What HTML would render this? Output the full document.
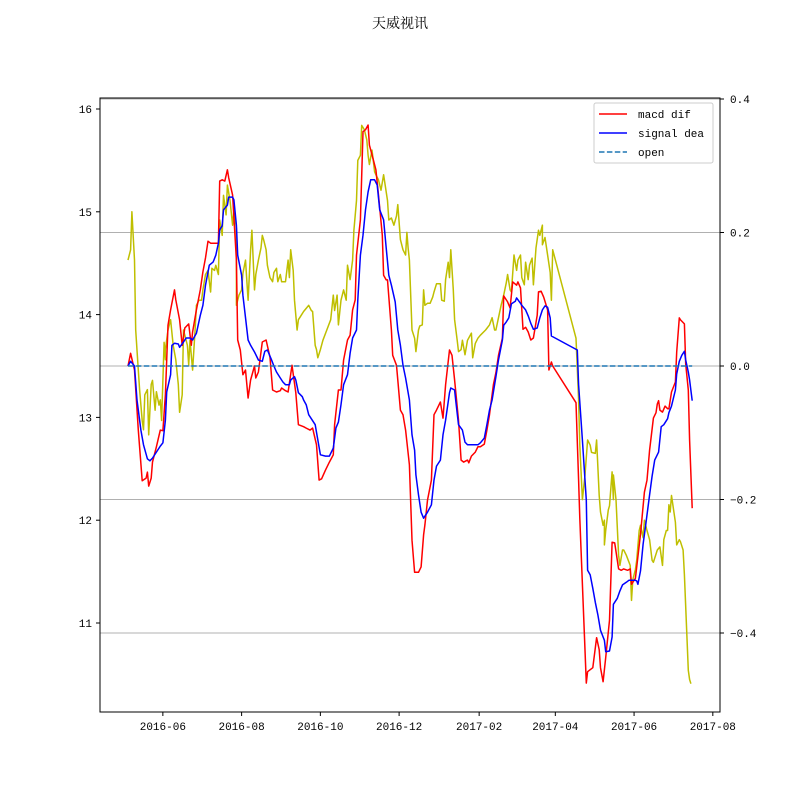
<!DOCTYPE html>
<html><head><meta charset="utf-8"><style>
body{margin:0;background:#fff}
svg text{font-family:"Liberation Mono","Noto Serif CJK SC",monospace;font-size:11px;fill:#000}
</style></head><body>
<svg id="chart" width="800" height="800" xmlns="http://www.w3.org/2000/svg">
<rect width="800" height="800" fill="#fff"/>
<text x="400" y="28" text-anchor="middle" style="font-family:'Noto Serif CJK SC','Noto Sans CJK SC',serif;font-size:14px">天威视讯</text>
<g id="grid"></g><g id="series"></g><g id="axes"></g>
<g id="legend">
<rect x="594" y="103" width="119" height="60" fill="#fff" fill-opacity="0.8" stroke="#ccc" rx="2"/>
<g><line x1="599" y1="114" x2="627" y2="114" stroke="#f00" stroke-width="1.5"/><text x="638" y="118">macd dif</text></g>
<g><line x1="599" y1="133" x2="627" y2="133" stroke="#00f" stroke-width="1.5"/><text x="638" y="137">signal dea</text></g>
<g><line x1="599" y1="152" x2="627" y2="152" stroke="#1f77b4" stroke-width="1.5" stroke-dasharray="5.5,2.4"/><text x="638" y="156">open</text></g>
</g>
</svg>
<script>
// days since 2016-05-05
const monthTickDays=[27,88,149,210,272,331,392,453];
const monthTickLabels=["2016-06","2016-08","2016-10","2016-12","2017-02","2017-04","2017-06","2017-08"];
const leftTicks=[11,12,13,14,15,16];
const rightTicks=[-0.4,-0.2,0.0,0.2,0.4];
const rightTickLabels=["\u22120.4","\u22120.2","0.0","0.2","0.4"];
const difDays=[0,2,5,8,11,14,15,16,18,19,22,25,27,29,31,33,36,37,40,42,44,47,49,50,53,56,58,60,62,64,66,68,70,71,73,75,77,78,81,84,85,87,89,91,93,95,98,99,101,104,107,110,112,115,118,119,122,124,127,130,132,136,138,141,143,146,148,150,153,156,159,160,163,165,167,170,172,174,176,177,180,182,184,186,187,190,192,194,197,198,200,201,204,205,208,209,211,213,215,218,220,222,225,227,229,230,232,235,237,239,242,244,246,249,251,253,256,258,260,263,264,266,269,271,273,276,278,280,283,285,287,290,291,294,296,298,301,302,304,306,308,310,312,314,317,318,320,322,325,326,328,329,347,349,350,355,356,360,363,365,366,368,370,373,375,377,380,382,384,387,389,390,393,397,400,402,404,407,409,410,411,412,414,416,418,419,421,424,425,427,428,431,432,434,435,437];
const difValues=[0,.019,-.006,-.096,-.172,-.168,-.159,-.180,-.168,-.144,-.121,-.096,-.097,-.043,.061,.084,.114,.099,.069,.031,.057,.063,.031,.051,.084,.114,.141,.162,.187,.184,.184,.184,.184,.277,.279,.277,.294,.282,.256,.159,.039,.024,-.013,-.006,-.048,-.021,0,-.018,-.009,.036,.039,.013,-.036,-.039,-.037,-.033,-.037,-.039,.001,-.040,-.088,-.091,-.093,-.096,-.093,-.118,-.171,-.169,-.156,-.144,-.133,-.088,-.036,-.036,.009,.039,.046,.084,.099,.166,.219,.351,.354,.361,.331,.309,.294,.256,.196,.136,.129,.129,.054,.016,.001,-.021,-.066,-.073,-.096,-.148,-.261,-.309,-.309,-.301,-.253,-.238,-.201,-.171,-.073,-.066,-.054,-.078,-.028,.024,.016,-.021,-.081,-.141,-.144,-.141,-.145,-.135,-.129,-.121,-.121,-.117,-.096,-.073,-.028,-.010,.016,.042,.105,.096,.087,.126,.121,.126,.117,.055,.058,.051,.039,.042,.076,.111,.112,.103,.084,-.006,.006,0,-.055,-.171,-.228,-.475,-.458,-.452,-.407,-.425,-.452,-.473,-.437,-.381,-.264,-.265,-.304,-.306,-.304,-.306,-.304,-.327,-.318,-.252,-.189,-.171,-.126,-.078,-.070,-.057,-.052,-.066,-.069,-.060,-.064,-.064,-.039,-.024,.021,.072,.069,.063,.003,-.036,-.111,-.213];
const deaDays=[0,2,5,7,10,12,15,17,19,22,25,27,29,30,33,34,36,39,40,43,45,48,50,53,56,58,60,63,66,68,70,71,73,74,77,78,81,82,84,85,88,89,93,95,98,101,104,106,108,111,113,115,118,120,122,125,126,129,130,132,135,136,138,140,143,145,149,153,156,159,161,163,165,167,170,172,174,177,178,180,182,184,186,188,191,193,195,198,200,202,204,207,209,211,213,215,218,220,222,223,225,227,229,232,235,237,239,242,244,246,249,250,253,254,256,259,261,263,267,271,273,276,278,280,282,285,287,290,291,293,295,297,300,301,304,305,308,310,312,314,317,319,321,323,325,327,328,348,349,352,355,356,358,360,362,364,366,369,370,373,375,376,379,381,383,386,388,390,393,394,395,397,399,401,404,406,408,411,413,415,418,419,421,424,425,427,429,431,432,434,435,437];
const deaValues=[0,.007,0,-.051,-.096,-.118,-.139,-.142,-.138,-.129,-.120,-.115,-.081,-.039,-.013,.031,.034,.033,.028,.036,.042,.042,.039,.049,.076,.091,.121,.151,.156,.166,.184,.204,.210,.234,.241,.253,.253,.249,.211,.166,.136,.106,.039,.031,.021,.009,.007,.022,.024,.010,0,-.009,-.018,-.024,-.028,-.028,-.021,-.016,-.021,-.040,-.046,-.051,-.058,-.073,-.082,-.088,-.133,-.135,-.135,-.123,-.093,-.084,-.058,-.028,-.013,.019,.042,.054,.099,.166,.196,.234,.261,.279,.279,.271,.234,.219,.177,.136,.121,.096,.054,.031,.001,-.018,-.051,-.103,-.126,-.163,-.193,-.219,-.228,-.219,-.208,-.171,-.150,-.141,-.103,-.081,-.040,-.033,-.036,-.054,-.088,-.096,-.114,-.118,-.118,-.118,-.115,-.108,-.088,-.066,-.051,-.016,.009,.039,.061,.066,.072,.093,.097,.102,.094,.091,.084,.075,.064,.055,.057,.072,.084,.090,.088,.072,.045,.024,-.028,-.111,-.201,-.306,-.313,-.333,-.354,-.373,-.396,-.411,-.428,-.427,-.406,-.357,-.348,-.337,-.328,-.324,-.321,-.321,-.321,-.322,-.327,-.307,-.267,-.238,-.193,-.165,-.141,-.129,-.091,-.088,-.079,-.070,-.060,-.036,-.012,.007,.016,.022,.009,-.009,-.021,-.052];
const openDays=[0,2,3,5,6,8,9,11,12,13,15,16,18,19,21,22,24,25,26,28,29,29,31,33,35,37,39,40,42,43,46,47,48,50,52,53,55,57,58,60,62,64,65,67,68,70,71,73,74,76,77,79,81,82,84,84,86,88,89,91,93,95,96,98,99,101,103,104,105,107,108,110,112,113,115,116,118,119,121,122,124,125,126,128,129,131,132,133,136,138,140,142,143,145,146,147,149,151,154,157,159,160,162,163,165,167,169,170,172,174,175,177,178,180,181,183,185,186,187,189,191,192,194,196,198,201,202,204,206,208,209,211,213,215,216,217,218,220,222,223,225,226,228,229,230,232,234,236,237,239,242,243,245,246,248,249,250,252,253,255,256,258,259,261,263,266,267,269,271,273,277,280,282,284,285,287,289,291,293,294,296,297,299,301,302,304,305,307,308,310,311,313,314,316,318,319,321,321,323,325,327,328,329,347,349,350,352,354,356,358,359,362,363,365,366,368,369,369,370,372,373,375,376,376,378,380,381,383,384,386,389,390,391,393,394,396,397,399,400,402,404,406,407,410,412,414,415,417,418,419,420,421,424,425,427,428,430,431,434,435,436];
const openValues=[14.53,14.63,15.00,14.53,13.85,13.46,13.27,12.97,12.88,13.22,13.27,12.83,13.32,13.36,13.07,13.25,13.12,13.17,12.97,13.73,13.56,13.66,13.85,13.95,13.70,13.56,13.32,13.05,13.22,13.85,13.70,13.51,13.75,13.46,13.85,14.09,14.14,14.14,14.24,14.39,14.43,14.22,14.45,14.43,14.48,14.39,14.92,14.77,15.16,14.97,15.26,15.11,14.87,15.02,14.84,14.09,14.19,14.24,14.40,14.53,14.14,14.63,14.82,14.24,14.39,14.53,14.65,14.77,14.73,14.63,14.48,14.36,14.32,14.41,14.45,14.32,14.39,14.32,14.32,14.32,14.53,14.36,14.63,14.43,14.14,13.85,13.95,13.97,14.03,14.06,14.09,14.04,14.03,13.70,13.66,13.58,13.66,13.75,13.85,13.95,14.19,14.04,14.19,13.90,14.14,14.24,14.14,14.48,14.34,14.53,14.82,15.11,15.50,15.55,15.84,15.80,15.70,15.55,15.46,15.60,15.39,15.36,15.31,15.21,15.36,15.11,14.92,14.94,14.87,14.96,15.07,14.73,14.63,14.58,14.80,14.65,14.53,13.85,13.77,13.64,13.85,13.89,13.90,14.24,14.09,14.11,14.11,14.17,14.22,14.30,14.30,14.14,14.13,14.34,14.51,14.36,14.63,14.24,13.95,13.75,13.64,13.66,13.75,13.61,13.75,13.82,13.58,13.72,13.77,13.80,13.85,13.90,13.97,13.85,13.85,13.97,14.09,14.19,14.31,14.39,14.24,14.22,14.58,14.43,14.53,14.58,14.36,14.29,14.51,14.34,14.48,14.55,14.29,14.65,14.82,14.77,14.87,14.68,14.75,14.58,14.41,14.14,14.63,13.77,13.17,12.73,12.20,12.44,12.78,12.73,12.66,12.65,12.78,12.24,12.08,11.95,12.00,11.76,11.90,12.10,12.14,12.47,12.20,12.44,12.20,11.66,11.56,11.71,11.71,11.66,11.56,11.22,11.42,11.52,11.61,11.90,11.95,11.83,12.00,11.90,11.81,11.61,11.59,11.71,11.74,11.56,11.81,11.90,11.90,12.15,12.08,12.24,11.98,11.76,11.81,11.79,11.71,11.47,10.54,10.45,10.41];

const NS="http://www.w3.org/2000/svg";
const L=100,R=720,T=98,B=712;
const xS=d=>128+d*1.291;
const yL=v=>109+(16-v)*102.8;
const yR=v=>366-v*667.5;
function mk(tag,attrs,parent){const e=document.createElementNS(NS,tag);for(const k in attrs)e.setAttribute(k,attrs[k]);parent.appendChild(e);return e;}
const grid=document.getElementById('grid'),ser=document.getElementById('series'),axes=document.getElementById('axes');
rightTicks.forEach((v,i)=>{
  const g=mk('line',{x1:L,x2:R,y1:yR(v),y2:yR(v),stroke:'#b0b0b0','stroke-width':1},grid);
  
  
  mk('line',{x1:R,x2:R+4,y1:yR(v),y2:yR(v),stroke:'#000'},axes);
  const t=mk('text',{x:R+10,y:yR(v)+4},axes);t.textContent=rightTickLabels[i];
  
  
});
leftTicks.forEach(v=>{
  mk('line',{x1:L-4,x2:L,y1:yL(v),y2:yL(v),stroke:'#000'},axes);
  const t=mk('text',{x:L-8,y:yL(v)+4,'text-anchor':'end'},axes);t.textContent=v;
  
  
});
monthTickDays.forEach((d,i)=>{
  mk('line',{x1:xS(d),x2:xS(d),y1:B,y2:B+4,stroke:'#000'},axes);
  const t=mk('text',{x:xS(d),y:B+18,'text-anchor':'middle'},axes);t.textContent=monthTickLabels[i];
  
  
});
const frame=mk('rect',{x:L,y:T,width:R-L,height:B-T,fill:'none',stroke:'#000','stroke-width':1},axes);


function line(days,vals,ys,color,name){
  const p=mk('polyline',{points:days.map((d,i)=>xS(d).toFixed(1)+','+ys(vals[i]).toFixed(1)).join(' '),fill:'none',stroke:color,'stroke-width':1.5,'stroke-linejoin':'round'},ser);
  
  
}
line(openDays,openValues,yL,'#bfbf00','open-price-line');
line(difDays,difValues,yR,'#ff0000','macd-dif-line');
line(deaDays,deaValues,yR,'#0000ff','signal-dea-line');
const z=mk('line',{x1:xS(0),x2:xS(437),y1:yR(0),y2:yR(0),stroke:'#1f77b4','stroke-width':1.5,'stroke-dasharray':'5.5,2.4'},ser);


</script>
</body></html>
